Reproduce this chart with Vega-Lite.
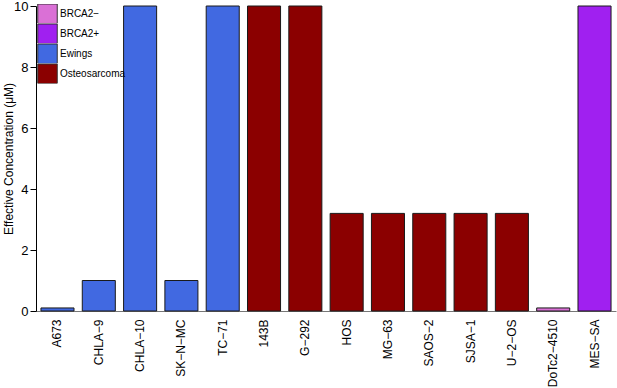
{
  "$schema": "https://vega.github.io/schema/vega-lite/v6.json",
  "width": 580,
  "height": 305,
  "autosize": "none",
  "padding": {"left": 36, "top": 6, "right": 1, "bottom": 77},
  "background": "white",
  "config": {"view": {"stroke": null}, "font": "Liberation Sans"},
  "data": {"values": [
    {"cell": "A673", "value": 0.1, "group": "Ewings"},
    {"cell": "CHLA\u22129", "value": 1, "group": "Ewings"},
    {"cell": "CHLA\u221210", "value": 10, "group": "Ewings"},
    {"cell": "SK\u2212N\u2212MC", "value": 1, "group": "Ewings"},
    {"cell": "TC\u221271", "value": 10, "group": "Ewings"},
    {"cell": "143B", "value": 10, "group": "Osteosarcoma"},
    {"cell": "G\u2212292", "value": 10, "group": "Osteosarcoma"},
    {"cell": "HOS", "value": 3.2, "group": "Osteosarcoma"},
    {"cell": "MG\u221263", "value": 3.2, "group": "Osteosarcoma"},
    {"cell": "SAOS\u22122", "value": 3.2, "group": "Osteosarcoma"},
    {"cell": "SJSA\u22121", "value": 3.2, "group": "Osteosarcoma"},
    {"cell": "U\u22122\u2212OS", "value": 3.2, "group": "Osteosarcoma"},
    {"cell": "DoTc2\u22124510", "value": 0.1, "group": "BRCA2\u2212"},
    {"cell": "MES\u2212SA", "value": 10, "group": "BRCA2+"}
  ]},
  "mark": {"type": "bar", "stroke": "#1a1a1a", "strokeWidth": 1},
  "encoding": {
    "x": {
      "field": "cell", "type": "nominal", "sort": null,
      "scale": {"paddingInner": 0.2, "paddingOuter": 0.12},
      "axis": {"title": null, "labelAngle": -90, "labelAlign": "right", "labelBaseline": "middle", "labelFontSize": 12, "labelColor": "black", "ticks": false, "domainColor": "#777777", "labelPadding": 8}
    },
    "y": {
      "field": "value", "type": "quantitative",
      "scale": {"domain": [0, 10], "nice": false},
      "axis": {"title": "Effective Concentration (\u03bcM)", "titleFontSize": 12, "titleFontWeight": "normal", "titleColor": "black", "titleX": -28, "titleBaseline": "middle", "values": [0, 2, 4, 6, 8, 10], "grid": false, "labelFontSize": 13, "labelColor": "black", "tickColor": "black", "domainColor": "black", "tickSize": 6, "labelPadding": 2}
    },
    "fill": {
      "field": "group", "type": "nominal",
      "scale": {"domain": ["BRCA2\u2212", "BRCA2+", "Ewings", "Osteosarcoma"], "range": ["#DA70D6", "#A020F0", "#4169E1", "#8B0000"]},
      "legend": {"title": null, "orient": "none", "legendX": 1, "legendY": -2, "symbolType": "square", "symbolSize": 380, "symbolStrokeColor": "#333333", "symbolStrokeWidth": 1, "symbolOpacity": 1, "rowPadding": 0, "clipHeight": 19.5, "labelFontSize": 10, "labelColor": "black", "labelOffset": 2, "padding": 0}
    }
  }
}
